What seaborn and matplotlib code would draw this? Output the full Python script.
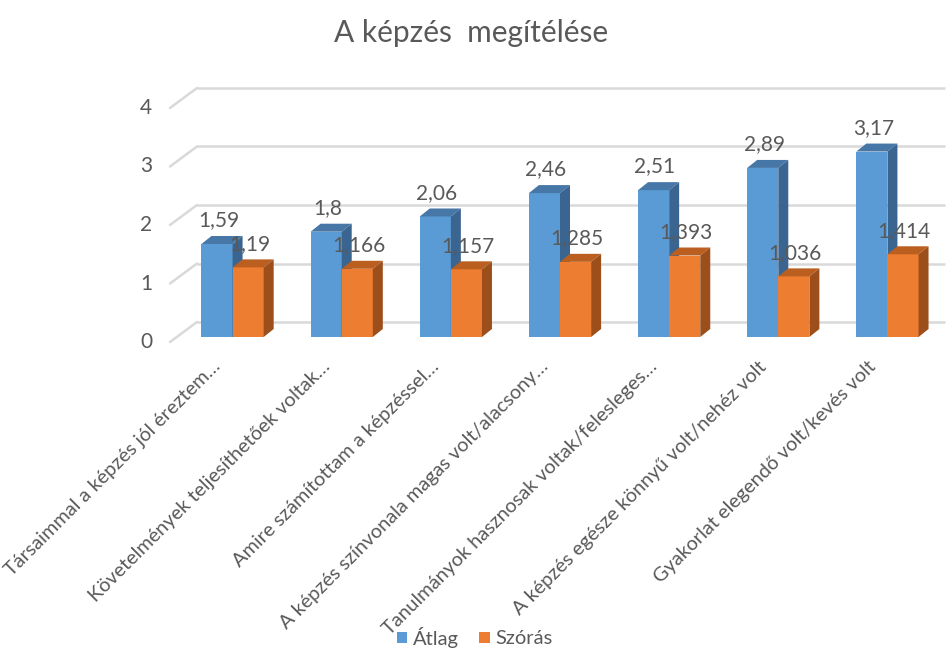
import numpy as np
import pandas as pd
import matplotlib
matplotlib.use("Agg")
import matplotlib.pyplot as plt
import matplotlib.transforms as mtransforms
from matplotlib.patches import Polygon, Patch
import seaborn as sns

categories = [
    "Társaimmal a képzés jól éreztem…",
    "Követelmények teljesíthetőek voltak…",
    "Amire számítottam a képzéssel…",
    "A képzés színvonala magas volt/alacsony…",
    "Tanulmányok hasznosak voltak/felesleges…",
    "A képzés egésze könnyű volt/nehéz volt",
    "Gyakorlat elegendő volt/kevés volt",
]
atlag = [1.59, 1.8, 2.06, 2.46, 2.51, 2.89, 3.17]
szoras = [1.19, 1.166, 1.157, 1.285, 1.393, 1.036, 1.414]
series_names = ["Átlag", "Szórás"]
y_ticks = [0, 1, 2, 3, 4]

front_colors = {"Átlag": "#5B9BD5", "Szórás": "#ED7D31"}
top_colors = {"Átlag": "#4677A6", "Szórás": "#BA5F20"}
side_colors = {"Átlag": "#3A6590", "Szórás": "#9C4F1B"}
text_color = "#595959"
grid_color = "#D9D9D9"

df = pd.DataFrame({
    "cat": categories * 2,
    "val": atlag + szoras,
    "series": [series_names[0]] * len(categories) + [series_names[1]] * len(categories),
})

sns.set_theme(style="white")
plt.rcParams["font.family"] = ["Lato", "DejaVu Sans"]

W, H = 947, 648
fig = plt.figure(figsize=(W / 100, H / 100), dpi=100)
# axes placed in pixel terms: x from 178 to 942, baseline at y=337, 58.5 px per unit
ax_l, ax_r = 178, 942
base_y, ppu = 337, 58.5
ymax = 4.4
top_y = base_y - ppu * ymax
ax = fig.add_axes([ax_l / W, (H - base_y) / H, (ax_r - ax_l) / W, (base_y - top_y) / H])

sns.barplot(data=df, x="cat", y="val", hue="series", palette=front_colors,
            width=0.57, dodge=True, ax=ax, legend=False, saturation=1,
            linewidth=0, order=categories, hue_order=series_names)
ax.set_xlim(-0.5, len(categories) - 0.5)
ax.set_ylim(0, ymax)
for s in ax.spines.values():
    s.set_visible(False)
ax.set_xticks([])
ax.set_yticks([])
ax.set_xlabel("")
ax.set_ylabel("")

# back wall gridlines and the diagonal side-wall connectors
back = mtransforms.offset_copy(ax.transData, fig=fig, x=0, y=15, units="dots")
front = mtransforms.offset_copy(ax.transData, fig=fig, x=0, y=-5, units="dots")
back_x0 = (197 - ax_l) / (ax_r - ax_l)
back_x1 = (945 - ax_l) / (ax_r - ax_l)
front_x = (170 - ax_l) / (ax_r - ax_l)
bt = mtransforms.blended_transform_factory(ax.transAxes, back)
ft = mtransforms.blended_transform_factory(ax.transAxes, front)
lbl_t = mtransforms.blended_transform_factory(fig.transFigure, front)
for v in y_ticks:
    ax.plot([back_x0, back_x1], [v, v], transform=bt, color=grid_color,
            lw=1.8, zorder=0, clip_on=False, solid_capstyle="butt")
    p0 = ft.transform((front_x, v))
    p1 = bt.transform((back_x0, v))
    ax.plot([p0[0], p1[0]], [p0[1], p1[1]], transform=mtransforms.IdentityTransform(),
            color=grid_color, lw=1.8, zorder=0, clip_on=False)
    fig.text(152 / W, v, str(v), transform=lbl_t, ha="right", va="center",
             fontsize=15, color=text_color)

# 3D faces on every bar
dx_px, dy_px = 10, 8
ux = ax.transData.transform((1, 0))[0] - ax.transData.transform((0, 0))[0]
uy = ax.transData.transform((0, 1))[1] - ax.transData.transform((0, 0))[1]
ddx, ddy = dx_px / ux, dy_px / uy

for k, (name, cont) in enumerate(zip(series_names, ax.containers)):
    z = 2 + k * 2
    for bar in cont.patches:
        x0 = bar.get_x()
        w = bar.get_width()
        h = bar.get_height()
        bar.set_zorder(z)
        top = Polygon([(x0, h), (x0 + w, h), (x0 + w + ddx, h + ddy), (x0 + ddx, h + ddy)],
                      closed=True, facecolor=top_colors[name], edgecolor="none", zorder=z)
        side = Polygon([(x0 + w, 0), (x0 + w + ddx, ddy), (x0 + w + ddx, h + ddy), (x0 + w, h)],
                       closed=True, facecolor=side_colors[name], edgecolor="none", zorder=z)
        ax.add_patch(top)
        ax.add_patch(side)
        label = f"{h:g}".replace(".", ",")
        ax.annotate(label, (x0 + w / 2, h), xytext=(1, 17), textcoords="offset points",
                    ha="center", va="center", fontsize=15, color=text_color,
                    zorder=10, annotation_clip=False)

# category labels, rotated
for i, c in enumerate(categories):
    ax.annotate(c, (i, 0), xytext=(-15, -15), textcoords="offset points",
                ha="right", va="top", rotation=45, rotation_mode="anchor",
                fontsize=14.3, color=text_color, annotation_clip=False)

fig.text(471 / W, 1 - 33 / H, "A képzés  megítélése", ha="center", va="center",
         fontsize=21.5, color=text_color)

# legend
handles = [Patch(facecolor=front_colors[n], edgecolor="none", label=n) for n in series_names]
fig.legend(handles=handles, loc="center", bbox_to_anchor=(475 / W, 1 - 637 / H),
           ncol=2, frameon=False, fontsize=14.5, handlelength=0.5, handleheight=0.5,
           handletextpad=0.3, columnspacing=1.0, labelcolor=text_color)

fig.savefig("out.png", dpi=100, facecolor="white")
